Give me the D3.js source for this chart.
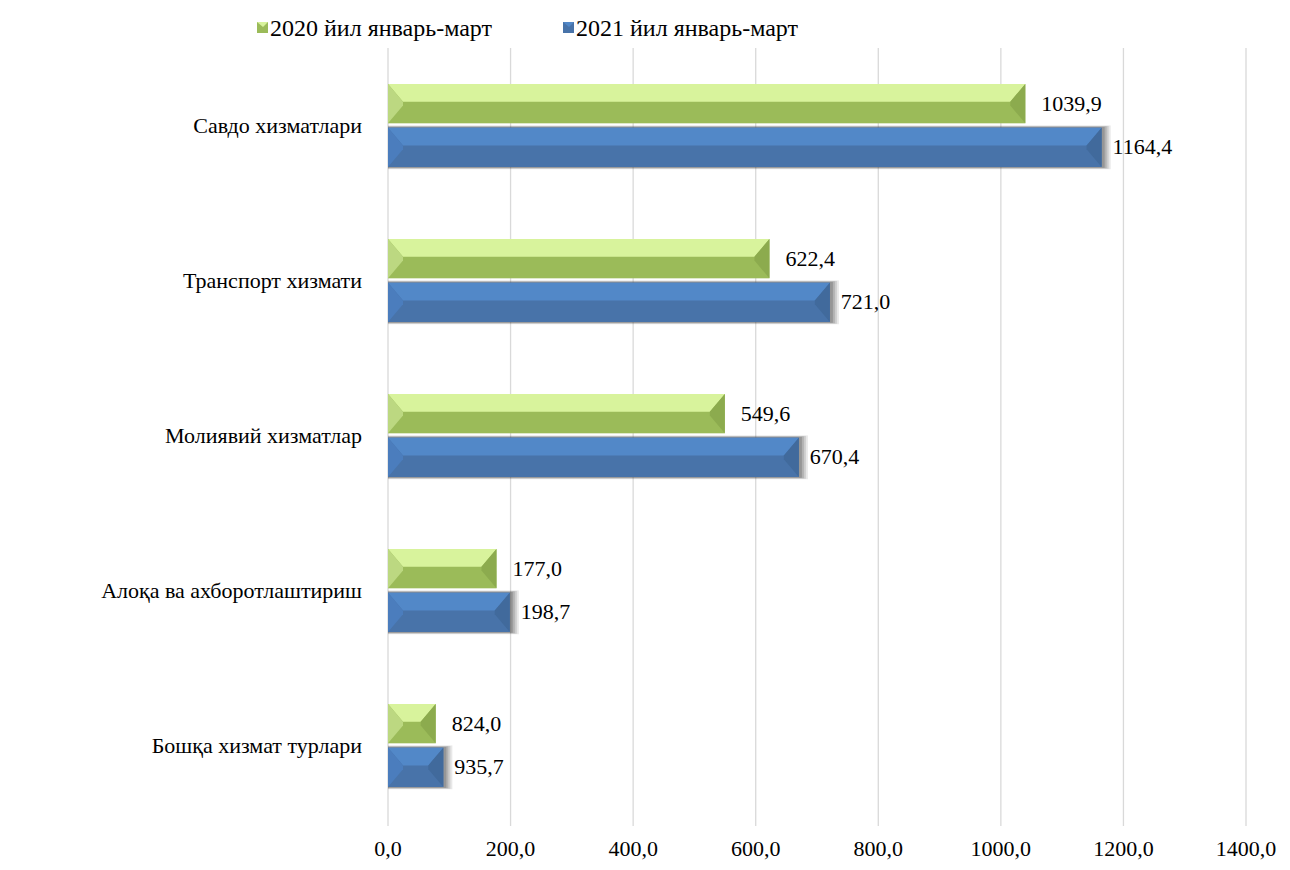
<!DOCTYPE html>
<html>
<head>
<meta charset="utf-8">
<script src="https://cdn.jsdelivr.net/npm/d3@7"></script>
</head>
<body>
<script>
var categories = ['Савдо хизматлари', 'Транспорт хизмати', 'Молиявий хизматлар', 'Алоқа ва ахборотлаштириш', 'Бошқа хизмат турлари'];
var seriesNames = ['2020 йил январь-март', '2021 йил январь-март'];
var values2020 = [1039.9, 622.4, 549.6, 177.0, 77.8];
var values2021 = [1164.4, 721.0, 670.4, 198.7, 90.3];
var labels2020 = ['1039,9', '622,4', '549,6', '177,0', '824,0'];
var labels2021 = ['1164,4', '721,0', '670,4', '198,7', '935,7'];
var xTicks = [0, 200, 400, 600, 800, 1000, 1200, 1400];

d3.select('body').style('margin', '0px');

var svg = d3.select('body')
    .append('svg')
    .attr('width', 1290)
    .attr('height', 870)
    .style('font-family', "'Times New Roman'");

var xScale = d3.scaleLinear().domain([0, 1400]).range([388, 1246]);
var yScale = d3.scaleBand().domain(categories).range([48, 823]);
var inner = d3.scaleBand().domain([0, 1]).range([36, 119]).paddingInner(0.1);

function serifText(t, size) {
    t.style('font-family', "'Times New Roman'").style('font-size', size + 'px');
}

// gridlines
svg.append('g')
    .selectAll('line')
    .data(xTicks)
    .enter()
    .append('line')
    .attr('x1', d => xScale(d))
    .attr('x2', d => xScale(d))
    .attr('y1', 48)
    .attr('y2', 826)
    .style('stroke', '#d9d9d9')
    .style('stroke-width', 1.3);

// x axis labels
svg.append('g')
    .selectAll('text')
    .data(xTicks)
    .enter()
    .append('text')
    .attr('x', d => xScale(d))
    .attr('y', 856)
    .attr('text-anchor', 'middle')
    .call(serifText, 22)
    .text(d => d.toFixed(1).replace('.', ','));

// category labels
svg.append('g')
    .selectAll('text')
    .data(categories)
    .enter()
    .append('text')
    .attr('x', 362)
    .attr('y', d => yScale(d) + yScale.bandwidth() / 2 + 7)
    .attr('text-anchor', 'end')
    .call(serifText, 22)
    .text(d => d);

var palette = [
    { top: '#d8f39c', mid: '#bcd881', bottom: '#9bbb59', right: '#8cab4e', label: labels2020, values: values2020 },
    { top: '#5288c8', mid: '#4b7dbd', bottom: '#4873a9', right: '#416a9c', label: labels2021, values: values2021 }
];

function pts(a) {
    return a.map(p => p.join(',')).join(' ');
}

function drawBar(g, x0, x1, y, h, c, shadow) {
    var w = x1 - x0;
    var d = Math.min(15, w / 2);
    if (shadow) {
        // soft shadow from stacked translucent rects
        [[9, 0.12], [7, 0.16], [5, 0.2], [3, 0.25]].forEach(function (s) {
            g.append('rect')
                .attr('x', x0)
                .attr('y', y - s[0] / 4)
                .attr('width', w + s[0])
                .attr('height', h + s[0] / 2)
                .style('fill', '#444')
                .style('opacity', s[1]);
        });
    }
    g.append('rect').attr('x', x0).attr('y', y).attr('width', w).attr('height', h).style('fill', c.bottom);
    g.append('polygon')
        .attr('points', pts([[x0, y], [x1, y], [x1 - d, y + h * 0.45], [x0 + d, y + h * 0.45]]))
        .style('fill', c.top);
    g.append('polygon')
        .attr('points', pts([[x0, y], [x0 + d, y + h * 0.45], [x0 + d, y + h * 0.55], [x0, y + h]]))
        .style('fill', c.mid);
    g.append('polygon')
        .attr('points', pts([[x1, y], [x1, y + h], [x1 - d, y + h * 0.55], [x1 - d, y + h * 0.45]]))
        .style('fill', c.right);
}

var bars = svg.append('g');
categories.forEach(function (cat, i) {
    palette.forEach(function (c, s) {
        var y = yScale(cat) + inner(s);
        var h = inner.bandwidth();
        var x1 = xScale(c.values[i]);
        drawBar(bars, xScale(0), x1, y, h, c, s === 1);
        bars.append('text')
            .attr('x', x1 + (s === 1 ? 11 : 16))
            .attr('y', y + h / 2 + 7)
            .call(serifText, 22)
            .text(c.label[i]);
    });
});

// legend
var legendX = [257, 563];
var legend = svg.append('g');
seriesNames.forEach(function (name, s) {
    var c = palette[s];
    legend.append('rect')
        .attr('x', legendX[s])
        .attr('y', 22)
        .attr('width', 11)
        .attr('height', 11)
        .style('fill', c.bottom);
    legend.append('polygon')
        .attr('points', pts([[legendX[s], 22], [legendX[s] + 11, 22], [legendX[s] + 6, 27]]))
        .style('fill', c.top);
    legend.append('text')
        .attr('x', legendX[s] + 13)
        .attr('y', 36)
        .call(serifText, 24)
        .text(name);
});
</script>
</body>
</html>
